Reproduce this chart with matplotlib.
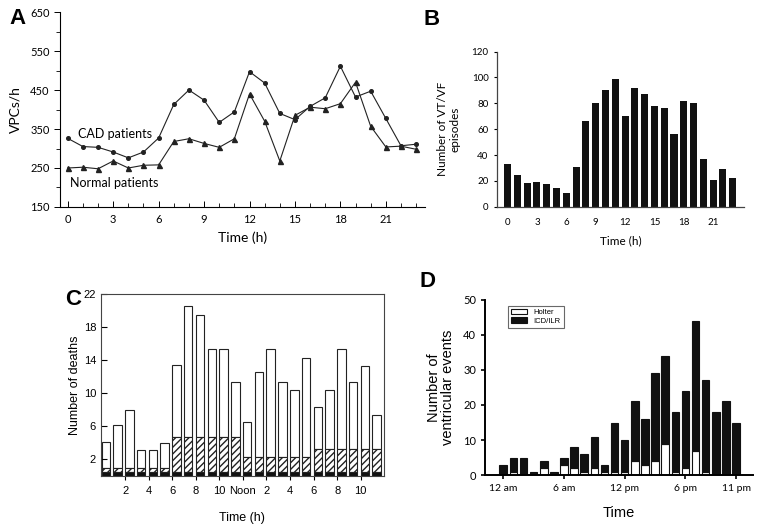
import matplotlib
matplotlib.use("Agg")
import matplotlib.pyplot as plt
import numpy as np

# Panel A: ventricular premature complexes per hour
hours = np.arange(24)
cad_vpcs = [326, 305, 303, 291, 276, 291, 327, 413, 450, 424, 367, 394,
             497, 468, 390, 374, 408, 430, 511, 432, 447, 377, 307, 311]
normal_vpcs = [250, 252, 248, 268, 250, 257, 258, 318, 325, 313, 303, 325,
               440, 370, 268, 385, 406, 402, 415, 470, 357, 304, 306, 298]

# Panel B: VT/VF episodes per hour
vt_vf_episodes = [33, 24.5, 18.5, 19.5, 17.5, 14.5, 10.5, 30.5, 66, 80, 90, 99,
                  70, 92, 87, 78, 76, 56, 82, 80, 37, 21, 29.5, 22]

# Panel C: deaths per hour (three stacked layers)
deaths_total = [4.1, 6.1, 8.0, 3.1, 3.1, 4.0, 13.4, 20.5, 19.4, 15.4, 15.4, 11.4,
                6.5, 12.5, 15.4, 11.4, 10.4, 14.3, 8.3, 10.4, 15.4, 11.4, 13.3, 7.4]
deaths_hatched_top = [1.0] * 6 + [4.7] * 6 + [2.3] * 6 + [3.3] * 6
deaths_black = [0.5] * 24
c_tick_pos = [2, 4, 6, 8, 10, 12, 14, 16, 18, 20, 22]
c_tick_labels = ["2", "4", "6", "8", "10", "Noon", "2", "4", "6", "8", "10"]

# Panel D: ventricular events per hour
holter_events = [0, 1, 0, 0, 2, 0, 3, 2, 1, 2, 1, 1, 1, 4, 3, 4, 9, 1, 2, 7, 1, 0, 0, 0]
icd_ilr_events = [3, 4, 5, 1, 2, 1, 2, 6, 5, 9, 2, 14, 9, 17, 13, 25, 25, 17, 22, 37, 26, 18, 21, 15]
d_tick_pos = [0, 6, 12, 18, 23]
d_tick_labels = ["12 am", "6 am", "12 pm", "6 pm", "11 pm"]

CAL = ["Lato", "DejaVu Sans"]
ARI = ["Liberation Sans", "DejaVu Sans"]


def panel_a(fig):
    ax = fig.add_axes([0.079, 0.605, 0.479, 0.372])
    ax.plot(hours, cad_vpcs, color="#222222", lw=0.8, marker="o", ms=2.6)
    ax.plot(hours, normal_vpcs, color="#222222", lw=0.8, marker="^", ms=3.6)
    ax.set_xlim(-0.5, 23.6)
    ax.set_ylim(150, 650)
    for s in ["top", "right"]:
        ax.spines[s].set_visible(False)
    for s in ["left", "bottom"]:
        ax.spines[s].set_linewidth(0.8)
    ax.set_yticks([150, 250, 350, 450, 550, 650])
    ax.set_yticks(np.arange(200, 650, 100), minor=True)
    ax.set_xticks(np.arange(0, 22, 3))
    ax.set_xticks(hours, minor=True)
    ax.tick_params(axis="x", direction="in", length=4, width=0.7, labelsize=8, pad=5)
    ax.tick_params(axis="x", which="minor", direction="in", length=3, width=0.6)
    ax.tick_params(axis="y", direction="out", length=4, width=0.7, labelsize=8)
    ax.tick_params(axis="y", which="minor", direction="out", length=3, width=0.6)
    for lab in ax.get_xticklabels() + ax.get_yticklabels():
        lab.set_family(CAL)
    ax.text(0.7, 336, "CAD patients", fontsize=9, family=CAL, va="center")
    ax.text(0.15, 212, "Normal patients", fontsize=9, family=CAL, va="center")
    ax.set_xlabel("Time (h)", fontsize=10, family=CAL, labelpad=5)
    ax.set_ylabel("VPCs/h", fontsize=10, family=CAL, labelpad=6)
    fig.text(0.012, 0.965, "A", fontsize=16, fontweight="bold", family=ARI, va="center")


def panel_b(fig):
    ax = fig.add_axes([0.652, 0.6055, 0.325, 0.296])
    ax.bar(hours, vt_vf_episodes, width=0.72, color="#111111")
    ax.set_xlim(-1.1, 24.2)
    ax.set_ylim(0, 120)
    for s in ["top", "right"]:
        ax.spines[s].set_visible(False)
    for s in ["left", "bottom"]:
        ax.spines[s].set_linewidth(0.9)
        ax.spines[s].set_color("#444444")
    ax.set_yticks(np.arange(0, 121, 20))
    ax.set_xticks(np.arange(0, 22, 3))
    ax.tick_params(axis="x", length=0, labelsize=7, pad=8)
    ax.tick_params(axis="y", direction="out", length=2.5, labelsize=7)
    for lab in ax.get_xticklabels() + ax.get_yticklabels():
        lab.set_family(CAL)
    ax.set_xlabel("Time (h)", fontsize=8.5, family=CAL, labelpad=6)
    ax.set_ylabel("Number of VT/VF\nepisodes", fontsize=8.5, family=CAL, labelpad=8)
    fig.text(0.556, 0.962, "B", fontsize=16, fontweight="bold", family=ARI, va="center")


def panel_c(fig):
    ax = fig.add_axes([0.1325, 0.092, 0.371, 0.347])
    x = np.arange(24)
    black = np.array(deaths_black)
    hatched = np.array(deaths_hatched_top)
    total = np.array(deaths_total)
    kw = dict(width=0.72, align="edge", edgecolor="#222222", linewidth=0.8)
    ax.bar(x, total - hatched, bottom=hatched, color="white", **kw)
    ax.bar(x, hatched - black, bottom=black, color="white", hatch="/////", **kw)
    ax.bar(x, black, color="#111111", **kw)
    ax.set_xlim(-0.05, 23.95)
    ax.set_ylim(0, 22)
    for s in ax.spines.values():
        s.set_linewidth(0.8)
        s.set_color("#444444")
    ax.set_yticks([2, 6, 10, 14, 18, 22])
    ax.set_xticks(c_tick_pos)
    ax.set_xticklabels(c_tick_labels)
    ax.tick_params(axis="y", direction="in", length=4, labelsize=8)
    ax.tick_params(axis="x", direction="out", length=3, labelsize=8, pad=4)
    for lab in ax.get_xticklabels() + ax.get_yticklabels():
        lab.set_family(ARI)
    ax.set_xlabel("Time (h)", fontsize=9, family=ARI, labelpad=12)
    ax.set_ylabel("Number of deaths", fontsize=9, family=ARI, labelpad=2)
    fig.text(0.085, 0.428, "C", fontsize=16, fontweight="bold", family=ARI, va="center")


def panel_d(fig):
    ax = fig.add_axes([0.6365, 0.0935, 0.352, 0.334])
    ax.bar(hours, holter_events, width=0.75, color="white", edgecolor="#111111", linewidth=0.8,
           label="Holter")
    ax.bar(hours, icd_ilr_events, bottom=holter_events, width=0.75, color="#111111",
           edgecolor="#111111", linewidth=0.8, label="ICD/ILR")
    ax.set_xlim(-1.8, 24.7)
    ax.set_ylim(0, 50)
    for s in ["top", "right"]:
        ax.spines[s].set_visible(False)
    for s in ["left", "bottom"]:
        ax.spines[s].set_linewidth(1.4)
    ax.set_yticks(np.arange(0, 51, 10))
    ax.set_xticks(d_tick_pos)
    ax.set_xticklabels(d_tick_labels)
    ax.tick_params(axis="y", direction="out", length=3, width=1.2, labelsize=8)
    ax.tick_params(axis="x", direction="out", length=3, width=1.2, labelsize=7.5)
    for lab in ax.get_xticklabels() + ax.get_yticklabels():
        lab.set_family(CAL)
    ax.set_xlabel("Time", fontsize=10.5, family=ARI, labelpad=9)
    ax.set_ylabel("Number of\nventricular events", fontsize=10.5, family=ARI, labelpad=6,
                  linespacing=1.0)
    leg = ax.legend(loc="upper left", bbox_to_anchor=(0.07, 0.99),
                    frameon=True, fancybox=False, handlelength=2.2, handleheight=0.7,
                    borderpad=0.4, labelspacing=0.2, prop={"family": ARI, "size": 5.5})
    leg.get_frame().set_edgecolor("#444444")
    leg.get_frame().set_linewidth(0.8)
    fig.text(0.551, 0.462, "D", fontsize=16, fontweight="bold", family=ARI, va="center")


def main():
    fig = plt.figure(figsize=(7.62, 5.24), dpi=100)
    panel_a(fig)
    panel_b(fig)
    panel_c(fig)
    panel_d(fig)
    fig.savefig("out.png", dpi=100, facecolor="white")


if __name__ == "__main__":
    main()
